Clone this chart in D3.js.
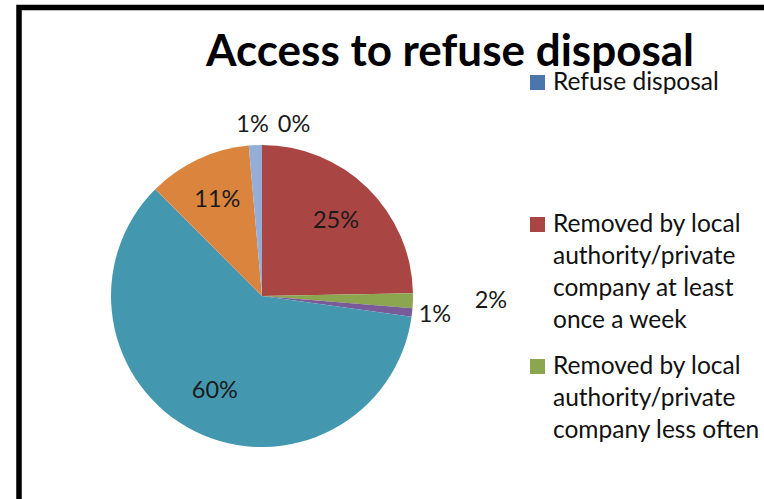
<!DOCTYPE html>
<html>
<head>
<meta charset="utf-8">
<script src="https://cdn.jsdelivr.net/npm/d3@7"></script>
<style>
  html, body { margin: 0; padding: 0; background: #fff; }
  svg { display: block; }
</style>
</head>
<body>
<svg id="chart" width="764" height="499"></svg>
<script>
// ---- data ----
const title = "Access to refuse disposal";
const categories = [
  "Refuse disposal",
  "Removed by local authority/private company at least once a week",
  "Removed by local authority/private company less often",
  "Communal refuse dump",
  "Own refuse dump",
  "No rubbish disposal",
  "Other"
];
const values = [0, 24.7, 1.6, 0.9, 60.3, 11.1, 1.4];
const colors = ["#4A76AC", "#A94644", "#8BA64F", "#7A5B99", "#4398B0", "#DB843D", "#95AED8"];
// legend (only the first three entries are visible in the original)
const legendLines = [
  ["Refuse disposal"],
  ["Removed by local", "authority/private", "company at least", "once a week"],
  ["Removed by local", "authority/private", "company less often"]
];
// labels placed outside the pie, with horizontal nudges (style only)
const outsideLabel = [true, false, true, true, false, false, true];
const outsideNudge = [32, 0, 58, 3, 0, 0, -2];

// ---- layout ----
const svg = d3.select("#chart");
const cx = 262, cy = 296, r = 151;
const font = "Lato, 'Open Sans', sans-serif";

// border
svg.append("rect")
  .attr("x", 19).attr("y", 7.5)
  .attr("width", 800).attr("height", 600)
  .attr("fill", "none").attr("stroke", "#000").attr("stroke-width", 5.5);

const total = d3.sum(values);
const data = categories.map((c, i) => ({ cat: c, value: values[i], i }));
const pie = d3.pie().sort(null).value(d => d.value);
const arcs = pie(data);
const arc = d3.arc().innerRadius(0).outerRadius(r);
const labelArc = d3.arc().innerRadius(r * 0.70).outerRadius(r * 0.70);
const outArc = d3.arc().innerRadius(r + 20).outerRadius(r + 20);

const g = svg.append("g").attr("transform", `translate(${cx},${cy})`);
g.selectAll("path").data(arcs).enter().append("path")
  .attr("d", arc)
  .attr("fill", d => colors[d.data.i]);

const pct = d => Math.round(d.data.value / total * 100) + "%";
g.selectAll("text.lbl").data(arcs).enter().append("text")
  .attr("class", "lbl")
  .attr("transform", d => {
    const p = outsideLabel[d.data.i] ? outArc.centroid(d) : labelArc.centroid(d);
    return `translate(${p[0] + (outsideLabel[d.data.i] ? outsideNudge[d.data.i] : 0)},${p[1]})`;
  })
  .attr("text-anchor", "middle")
  .attr("dy", "0.3em")
  .attr("font-family", font)
  .attr("font-size", 23.5)
  .attr("fill", "#1a1a1a")
  .text(pct);

// title
svg.append("text")
  .attr("x", 450).attr("y", 66)
  .attr("text-anchor", "middle")
  .attr("font-family", font)
  .attr("font-weight", "bold")
  .attr("font-size", 44)
  .attr("fill", "#000")
  .text(title);

// legend
const legendTop = [75, 217, 359];
const lg = svg.append("g");
legendLines.forEach((lines, k) => {
  lg.append("rect")
    .attr("x", 530).attr("y", legendTop[k])
    .attr("width", 15).attr("height", 15)
    .attr("fill", colors[k]);
  lines.forEach((ln, j) => {
    lg.append("text")
      .attr("x", 553)
      .attr("y", legendTop[k] + 15 + j * 32)
      .attr("font-family", font)
      .attr("font-size", 24.5)
      .attr("fill", "#111")
      .text(ln);
  });
});
</script>
</body>
</html>
